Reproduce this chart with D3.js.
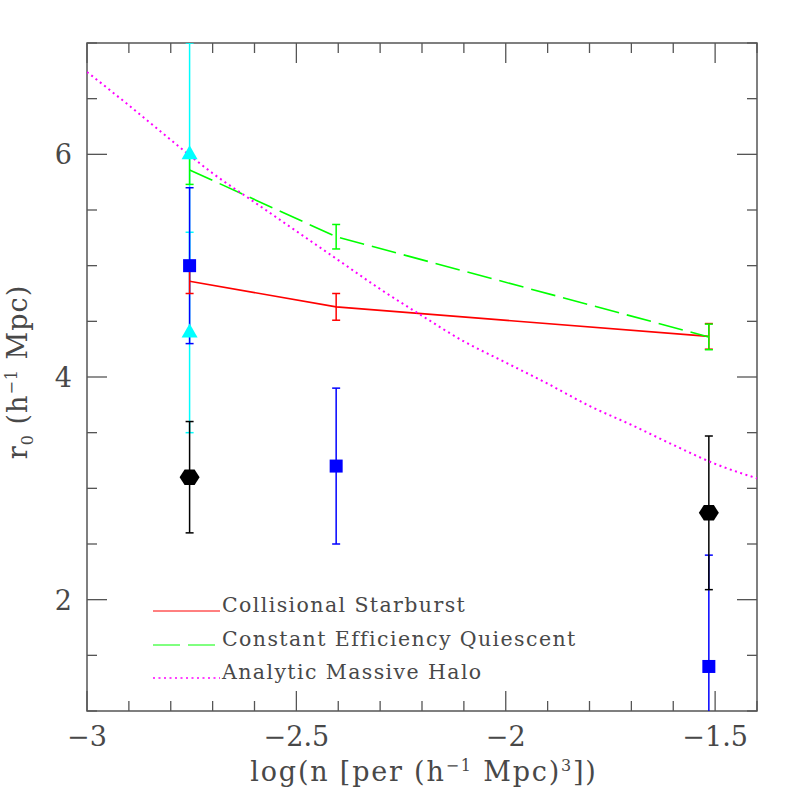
<!DOCTYPE html>
<html>
<head>
<meta charset="utf-8">
<script src="https://cdn.jsdelivr.net/npm/d3@7"></script>
<style>
  body { margin: 0; background: #fff; }
  text { font-family: "DejaVu Serif", serif; fill: #484848; }
</style>
</head>
<body>
<div id="chart"></div>
<script>
// model predictions at the three densities
const modelX = [-2.755, -2.405, -1.515];
const starburstY = [4.86, 4.63, 4.365];
const starburstErr = [0.11, 0.12, 0.115];
const quiescentY = [5.86, 5.26, 4.36];
const quiescentErr = [0.13, 0.11, 0.115];

// analytic massive halo curve
const haloX = [-3.0, -2.9, -2.8, -2.7, -2.6, -2.5, -2.4, -2.3, -2.2, -2.1, -2.0, -1.9, -1.8, -1.7, -1.6, -1.5, -1.4];
const haloY = [6.74, 6.44, 6.13, 5.83, 5.57, 5.31, 5.05, 4.79, 4.55, 4.32, 4.13, 3.94, 3.74, 3.57, 3.39, 3.22, 3.09];

// observations
const blackX = [-2.755, -1.515];
const blackY = [3.1, 2.78];
const blackErr = [0.5, 0.69];
const blueX = [-2.755, -2.405, -1.515];
const blueY = [5.0, 3.2, 1.4];
const blueErr = [0.7, 0.7, 1.0];
const cyanX = [-2.755, -2.755];
const cyanY = [6.0, 4.4];
const cyanErr = [1.0, 0.9];

const xMajor = [-3, -2.5, -2, -1.5];
const yMajor = [2, 4, 6];
const legendNames = ["Collisional Starburst", "Constant Efficiency Quiescent", "Analytic Massive Halo"];

const W = 797, H = 797;
const box = { left: 87, right: 757, top: 43, bottom: 711 };

const x = d3.scaleLinear().domain([-3, -1.4]).range([box.left, box.right]);
const y = d3.scaleLinear().domain([1, 7]).range([box.bottom, box.top]);

const svg = d3.select("#chart").append("svg")
  .attr("width", W)
  .attr("height", H);

svg.append("defs").append("clipPath").attr("id", "clip")
  .append("rect")
  .attr("x", box.left).attr("y", box.top)
  .attr("width", box.right - box.left).attr("height", box.bottom - box.top);

// ticks on all four sides
const tickCol = "#555";
const xMinor = d3.range(-3, -1.39, 0.1);
const yMinor = d3.range(1, 7.01, 0.5);
const isMajor = (v, list) => list.some(m => Math.abs(m - v) < 1e-6);

const axes = svg.append("g");
xMinor.forEach(v => {
  const len = isMajor(v, xMajor) ? 20 : 10;
  axes.append("line").attr("x1", x(v)).attr("x2", x(v)).attr("y1", box.bottom).attr("y2", box.bottom - len)
    .attr("stroke", tickCol).attr("stroke-width", 1.3);
  axes.append("line").attr("x1", x(v)).attr("x2", x(v)).attr("y1", box.top).attr("y2", box.top + len)
    .attr("stroke", tickCol).attr("stroke-width", 1.3);
});
yMinor.forEach(v => {
  const len = isMajor(v, yMajor) ? 20 : 10;
  axes.append("line").attr("y1", y(v)).attr("y2", y(v)).attr("x1", box.left).attr("x2", box.left + len)
    .attr("stroke", tickCol).attr("stroke-width", 1.3);
  axes.append("line").attr("y1", y(v)).attr("y2", y(v)).attr("x1", box.right).attr("x2", box.right - len)
    .attr("stroke", tickCol).attr("stroke-width", 1.3);
});
axes.append("rect")
  .attr("x", box.left).attr("y", box.top)
  .attr("width", box.right - box.left).attr("height", box.bottom - box.top)
  .attr("fill", "none").attr("stroke", tickCol).attr("stroke-width", 1.5);

// tick labels
svg.selectAll(".xl").data(xMajor).join("text")
  .attr("x", d => x(d)).attr("y", 746)
  .attr("text-anchor", "middle").attr("font-size", 27)
  .text(d => String(d).replace("-", "\u2212"));
svg.selectAll(".yl").data(yMajor).join("text")
  .attr("x", 72).attr("y", d => y(d) + 10)
  .attr("text-anchor", "end").attr("font-size", 27)
  .text(d => d);

// axis titles
const xt = svg.append("text").attr("x", 424).attr("y", 781)
  .attr("text-anchor", "middle").attr("font-size", 27)
  .attr("letter-spacing", 1.8);
xt.append("tspan").text("log(n [per (h");
xt.append("tspan").attr("font-size", 16).attr("dy", -10).text("\u22121");
xt.append("tspan").attr("dy", 10).text(" Mpc)");
xt.append("tspan").attr("font-size", 16).attr("dy", -10).text("3");
xt.append("tspan").attr("dy", 10).text("])");

const yt = svg.append("text").attr("transform", "translate(27,372) rotate(-90)")
  .attr("text-anchor", "middle").attr("font-size", 27)
  .attr("letter-spacing", 1);
yt.append("tspan").text("r");
yt.append("tspan").attr("font-size", 16).attr("dy", 6).text("0");
yt.append("tspan").attr("dy", -6).text(" (h");
yt.append("tspan").attr("font-size", 16).attr("dy", -10).text("\u22121");
yt.append("tspan").attr("dy", 10).text(" Mpc)");

const plot = svg.append("g").attr("clip-path", "url(#clip)");

function errorBars(xs, ys, es, color) {
  xs.forEach((xv, i) => {
    const g = plot.append("g").attr("stroke", color).attr("stroke-width", 1.5);
    g.append("line").attr("x1", x(xv)).attr("x2", x(xv))
      .attr("y1", y(ys[i] - es[i])).attr("y2", y(ys[i] + es[i]));
    [ys[i] - es[i], ys[i] + es[i]].forEach(v => {
      g.append("line").attr("x1", x(xv) - 4).attr("x2", x(xv) + 4)
        .attr("y1", y(v)).attr("y2", y(v));
    });
  });
}

errorBars(cyanX, cyanY, cyanErr, "#00ffff");
errorBars(blueX, blueY, blueErr, "#0000ff");
errorBars(blackX, blackY, blackErr, "#000000");

const line = d3.line().x(d => x(d[0])).y(d => y(d[1]));

// model lines
plot.append("path")
  .attr("d", line(modelX.map((v, i) => [v, starburstY[i]])))
  .attr("fill", "none").attr("stroke", "#ff0000").attr("stroke-width", 1.6);
errorBars(modelX, starburstY, starburstErr, "#ff0000");

plot.append("path")
  .attr("d", line(modelX.map((v, i) => [v, quiescentY[i]])))
  .attr("fill", "none").attr("stroke", "#00ff00").attr("stroke-width", 1.6)
  .attr("stroke-dasharray", "25,8");
errorBars(modelX, quiescentY, quiescentErr, "#00ff00");

plot.append("path")
  .attr("d", d3.line().curve(d3.curveMonotoneX).x(d => x(d[0])).y(d => y(d[1]))(haloX.map((v, i) => [v, haloY[i]])))
  .attr("fill", "none").attr("stroke", "#ff00ff").attr("stroke-width", 2)
  .attr("stroke-dasharray", "2,3.5");

// markers
plot.selectAll(".sq").data(blueX).join("rect")
  .attr("x", (d) => x(d) - 6.5).attr("y", (d, i) => y(blueY[i]) - 6.5)
  .attr("width", 13).attr("height", 13).attr("fill", "#0000ff");

const hex = d3.range(6).map(k => [10 * Math.cos(k * Math.PI / 3), 9 * Math.sin(k * Math.PI / 3)]);
plot.selectAll(".hx").data(blackX).join("polygon")
  .attr("points", (d, i) => hex.map(p => [x(d) + p[0], y(blackY[i]) + p[1]].join(",")).join(" "))
  .attr("fill", "#000");

plot.selectAll(".tr").data(cyanX).join("path")
  .attr("transform", (d, i) => `translate(${x(d)},${y(cyanY[i])})`)
  .attr("d", "M0,-9 L8,5 L-8,5 Z")
  .attr("fill", "#00ffff");

// legend
const legColors = ["#ff0000", "#00ff00", "#ff00ff"];
const legDash = [null, "27,8", "2,3.5"];
const legY = [611, 645, 678];
legendNames.forEach((name, i) => {
  svg.append("line")
    .attr("x1", 153).attr("x2", 220).attr("y1", legY[i]).attr("y2", legY[i])
    .attr("stroke", legColors[i]).attr("stroke-width", i === 2 ? 1.5 : 1)
    .attr("stroke-dasharray", legDash[i]);
  svg.append("text")
    .attr("x", 222).attr("y", legY[i] + 1)
    .attr("font-size", 20.5)
    .attr("letter-spacing", 1.4)
    .text(name);
});
</script>
</body>
</html>
